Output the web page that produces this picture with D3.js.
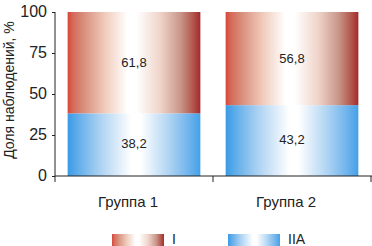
<!DOCTYPE html>
<html><head><meta charset="utf-8">
<script src="https://cdn.jsdelivr.net/npm/d3@7"></script>
<style>
body{margin:0;background:#fff;}
text{font-family:"Liberation Sans Narrow","Arial Narrow","Liberation Sans",sans-serif;fill:#222;}
</style></head><body>
<svg id="c" width="372" height="246"></svg>
<script>
const categories = ["Группа 1", "Группа 2"];
const seriesNames = ["IIA", "I"];
const valuesIIA = [38.2, 43.2];
const valuesI = [61.8, 56.8];
const labelsIIA = ["38,2", "43,2"];
const labelsI = ["61,8", "56,8"];
const yTicks = [0, 25, 50, 75, 100];
const yTitle = "Доля наблюдений, %";

const svg = d3.select("#c");
const m = {l:55, r:1, t:12, b:70};
const W = 372, H = 246;
const x = d3.scaleBand().domain(categories).range([m.l, W - m.r]).paddingInner(0.16).paddingOuter(0.08);
const y = d3.scaleLinear().domain([0, 100]).range([176, 12]);

const defs = svg.append("defs");
function grad(id, stops){
  const g = defs.append("linearGradient").attr("id", id).attr("x1","0%").attr("x2","100%").attr("y1","0%").attr("y2","0%");
  stops.forEach(s => g.append("stop").attr("offset", s[0]).attr("stop-color", s[1]));
}
grad("gRed", [["0%","#d8463a"],["4%","#d56a58"],["12%","#d98e7c"],["28%","#f0cbbb"],["45%","#ffffff"],["52%","#ffffff"],["70%","#efd3c8"],["85%","#c9968a"],["94%","#b45a50"],["100%","#a32a2c"]]);
grad("gBlue", [["0%","#3a9ae6"],["8%","#62aeea"],["25%","#aed3f2"],["48%","#ffffff"],["55%","#ffffff"],["75%","#b5d7f3"],["92%","#6cb2ec"],["100%","#44a0e8"]]);

const stack = categories.map((c,i) => ({c, iia: valuesIIA[i], i1: valuesI[i], li: labelsI[i], la: labelsIIA[i]}));

const g = svg.append("g");
g.selectAll("rect.b").data(stack).join("rect")
  .attr("x", d => x(d.c)).attr("width", x.bandwidth())
  .attr("y", d => y(d.iia)).attr("height", d => y(0) - y(d.iia))
  .attr("fill", "url(#gBlue)");
g.selectAll("rect.r").data(stack).join("rect")
  .attr("x", d => x(d.c)).attr("width", x.bandwidth())
  .attr("y", d => y(d.iia + d.i1)).attr("height", d => y(d.iia) - y(d.iia + d.i1))
  .attr("fill", "url(#gRed)");

g.selectAll("text.li").data(stack).join("text")
  .attr("x", d => x(d.c) + x.bandwidth()/2).attr("y", d => y(d.iia + d.i1/2) + 4)
  .attr("text-anchor","middle").attr("font-size", 13).text(d => d.li);
g.selectAll("text.la").data(stack).join("text")
  .attr("x", d => x(d.c) + x.bandwidth()/2).attr("y", d => y(d.iia/2) + 3)
  .attr("text-anchor","middle").attr("font-size", 13).text(d => d.la);

// Y axis
const ya = svg.append("g").attr("transform", `translate(${m.l},0)`)
  .call(d3.axisLeft(y).tickValues(yTicks).tickSize(3).tickPadding(5));
ya.select(".domain").attr("d", `M0,${y(100)}V${y(0)+6}`).attr("stroke","#222");
ya.selectAll(".tick line").attr("stroke","#222");
ya.selectAll(".tick text").attr("font-size", 16).attr("fill","#222").attr("dy","0.3em")
  .attr("font-family",'"Liberation Sans Narrow","Liberation Sans",sans-serif');

// X axis
const xa = svg.append("g").attr("transform", `translate(0,${y(0)})`);
xa.append("line").attr("x1", m.l).attr("x2", W).attr("y1", 0).attr("y2", 0).attr("stroke","#222");
const bounds = categories.map(c => x(c) + x.bandwidth() + x.step()*x.paddingInner()/2);
xa.selectAll("line.t").data(bounds).join("line")
  .attr("x1", d => d).attr("x2", d => d).attr("y1", 0).attr("y2", 6).attr("stroke","#222");
xa.selectAll("text.c").data(categories).join("text")
  .attr("x", c => x(c) + x.bandwidth()/2 - 6).attr("y", 31)
  .attr("text-anchor","middle").attr("font-size", 15).text(c => c);

// Y title
svg.append("text").attr("transform", `translate(14,${(y(0)+y(100))/2 - 4}) rotate(-90)`)
  .attr("text-anchor","middle").attr("font-size", 14).text(yTitle);

// Legend
const legend = [{name:"I", fill:"url(#gRed)", x:112}, {name:"IIA", fill:"url(#gBlue)", x:228}];
const lg = svg.append("g");
lg.selectAll("rect").data(legend).join("rect")
  .attr("x", d => d.x).attr("y", 234).attr("width", 52).attr("height", 16).attr("fill", d => d.fill);
lg.selectAll("text").data(legend).join("text")
  .attr("x", d => d.x + 60).attr("y", 244).attr("font-size", 14).text(d => d.name);
</script></body></html>
